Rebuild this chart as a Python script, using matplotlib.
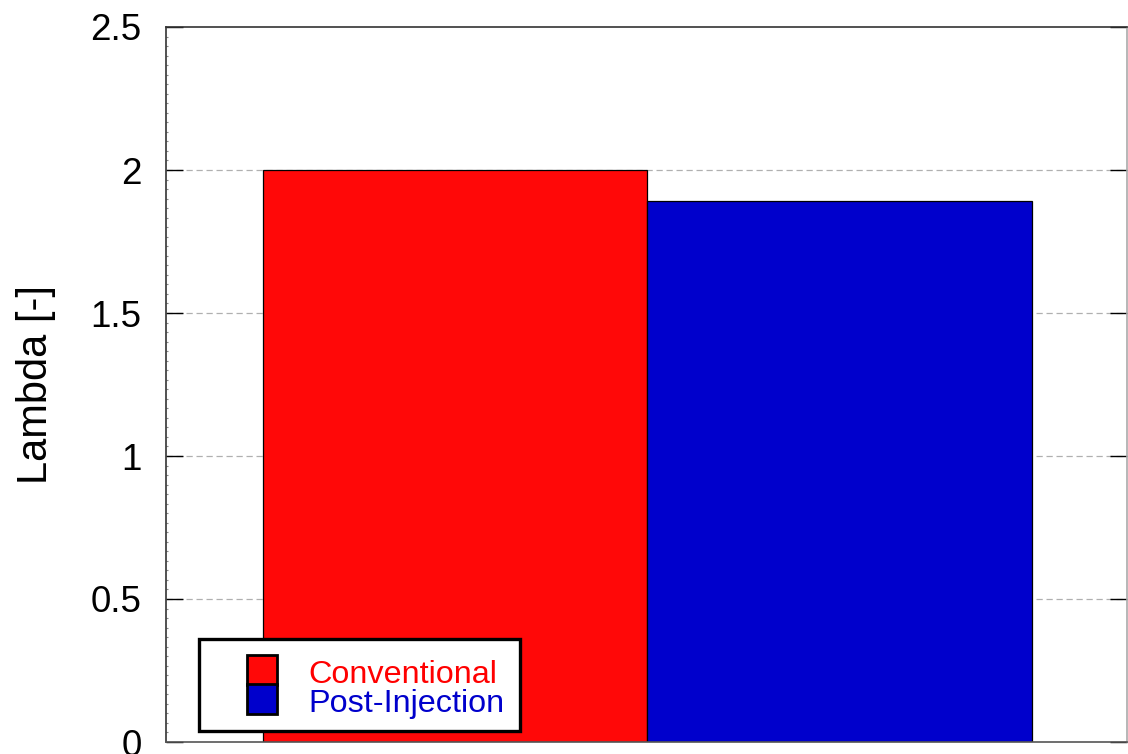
import matplotlib
matplotlib.use("Agg")
import matplotlib.pyplot as plt
from matplotlib.patches import Rectangle
from matplotlib.ticker import AutoMinorLocator

# Data
cases = ["Conventional", "Post-Injection"]
lambda_values = [2.0, 1.89]
bar_colors = ["#ff0808", "#0000cc"]
text_colors = ["#ff0000", "#0000cc"]
y_ticks = [0, 0.5, 1, 1.5, 2, 2.5]
y_tick_labels = ["0", "0.5", "1", "1.5", "2", "2.5"]

plt.rcParams["font.family"] = ["Liberation Sans", "DejaVu Sans"]

W, H = 1128, 754
fig = plt.figure(figsize=(W / 100, H / 100), dpi=100)
ax = fig.add_axes([166 / W, 1 - 742 / H, (1127 - 166) / W, (742 - 27) / H])

positions = list(range(len(cases)))
ax.bar(positions, lambda_values, width=1.0, color=bar_colors,
       edgecolor="black", linewidth=0.9, zorder=2)

ax.set_xlim(-0.752, 1.747)
ax.set_ylim(0, 2.5)
ax.set_yticks(y_ticks)
ax.set_yticklabels(y_tick_labels)
ax.yaxis.set_minor_locator(AutoMinorLocator(15))
ax.set_xticks([])

# dashed horizontal grid behind the bars
for yv in y_ticks[1:-1]:
    ax.axhline(yv, color="#b0b0b0", linestyle=(0, (5, 3)), linewidth=0.9, zorder=0)

ax.tick_params(axis="y", which="major", direction="in", length=12, width=1.0,
               labelsize=26.5, pad=17.5, right=True, colors="black")
ax.tick_params(axis="y", which="minor", direction="in", length=1.5, width=0.8,
               color="#888888", right=False)

ax.spines["left"].set_color("#333333")
ax.spines["top"].set_color("#333333")
ax.spines["right"].set_color("#aaaaaa")
ax.spines["bottom"].set_color("#555555")
for s in ax.spines.values():
    s.set_linewidth(1.2)

ax.set_ylabel("Lambda [-]", fontsize=30)
ax.yaxis.set_label_coords(-0.114, 0.5)

# legend box drawn in figure pixel space
def px(x, y):
    return (x / W, 1 - y / H)

box_x0, box_y0, box_x1, box_y1 = 199, 639, 520, 731
bx, by = px(box_x0, box_y1)
fig.patches.append(Rectangle((bx, by), (box_x1 - box_x0) / W, (box_y1 - box_y0) / H,
                             transform=fig.transFigure, facecolor="white",
                             edgecolor="black", linewidth=2.4, zorder=5))
swatch_tops = [655, 684]
baselines = [683, 712]
for i, name in enumerate(cases):
    sx, sy = px(247, swatch_tops[i] + 30)
    fig.patches.append(Rectangle((sx, sy), 30 / W, 30 / H, transform=fig.transFigure,
                                 facecolor=bar_colors[i], edgecolor="black",
                                 linewidth=2.0, zorder=6))
    tx, ty = px(308, baselines[i])
    fig.text(tx, ty, name, color=text_colors[i], fontsize=23.3,
             ha="left", va="baseline", zorder=7)

fig.savefig("out.png", dpi=100)
